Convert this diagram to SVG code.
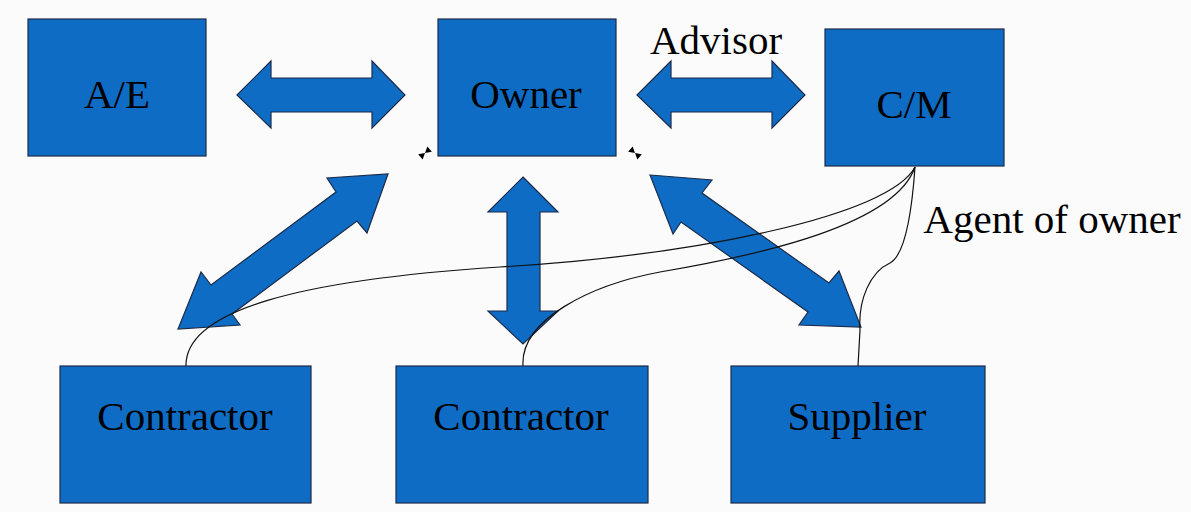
<svg xmlns="http://www.w3.org/2000/svg" width="1191" height="512" viewBox="0 0 1191 512">
<style>
.box{fill:#0f6cc5;stroke:#1b2b4a;stroke-width:1.2}
.arr{fill:#0f6cc5;stroke:#1b2b4a;stroke-width:1.2;stroke-linejoin:miter}
.lbl{font-family:'Liberation Serif','DejaVu Serif','Times New Roman',serif;font-size:41px;fill:#000;text-anchor:middle}
.ln{fill:none;stroke:#111;stroke-width:1.2}
.mk{fill:#000}
</style>
<rect width="1191" height="512" fill="#fbfbfb"/>
<g id="connectors">
<polygon class="arr" points="237,95 271,61 271,78 372,78 372,61 405,95 372,128 372,112 271,112 271,128"/>
<polygon class="arr" points="637,95 671,61 671,78 772,78 772,61 805,95 772,128 772,112 671,112 671,128"/>
<polygon class="arr" points="388,174 367,233 357,221 232,314 240,325 178,329 201,272 211,285 336,192 327,178"/>
<polygon class="arr" points="523,177 558,212 540,212 540,311 558,311 523,344 488,311 507,311 507,212 488,212"/>
<polygon class="arr" points="650,175 712,180 702,193 829,283 839,271 861,327 799,325 808,312 681,222 673,234"/>
<path class="ln" d="M915,167 C890,215 700,255 500,267 C300,280 185,310 186,366"/>
<path class="ln" d="M915,167 C895,225 760,255 660,272 C590,285 520,320 523,366"/>
<path class="ln" d="M915,167 C912,210 905,255 890,263 C870,272 858,300 860,330 L858,366"/>
<text class="lbl" x="716" y="54" font-family="Liberation Serif, serif">Advisor</text>
<text class="lbl" x="1052" y="233" font-family="Liberation Serif, serif">Agent of owner</text>
<path class="mk" transform="translate(425,153) rotate(-40)" d="M-6,-3.5 L0,0 L-6,3.5 Z M6,-3.5 L0,0 L6,3.5 Z"/>
<path class="mk" transform="translate(635,153) rotate(40)" d="M-6,-3.5 L0,0 L-6,3.5 Z M6,-3.5 L0,0 L6,3.5 Z"/>
</g>
<g id="ae"><rect class="box" x="28" y="19" width="178" height="137"/><text class="lbl" x="117" y="108" font-family="Liberation Serif, serif">A/E</text></g>
<g id="owner"><rect class="box" x="438" y="19" width="178" height="137"/><text class="lbl" x="526" y="108" font-family="Liberation Serif, serif">Owner</text></g>
<g id="cm"><rect class="box" x="825" y="29" width="179" height="137"/><text class="lbl" x="914" y="118" font-family="Liberation Serif, serif">C/M</text></g>
<g id="contractor1"><rect class="box" x="60" y="366" width="251" height="137"/><text class="lbl" x="185" y="430" font-family="Liberation Serif, serif">Contractor</text></g>
<g id="contractor2"><rect class="box" x="396" y="366" width="252" height="137"/><text class="lbl" x="521" y="430" font-family="Liberation Serif, serif">Contractor</text></g>
<g id="supplier"><rect class="box" x="731" y="366" width="254" height="137"/><text class="lbl" x="857" y="430" font-family="Liberation Serif, serif">Supplier</text></g>
</svg>
